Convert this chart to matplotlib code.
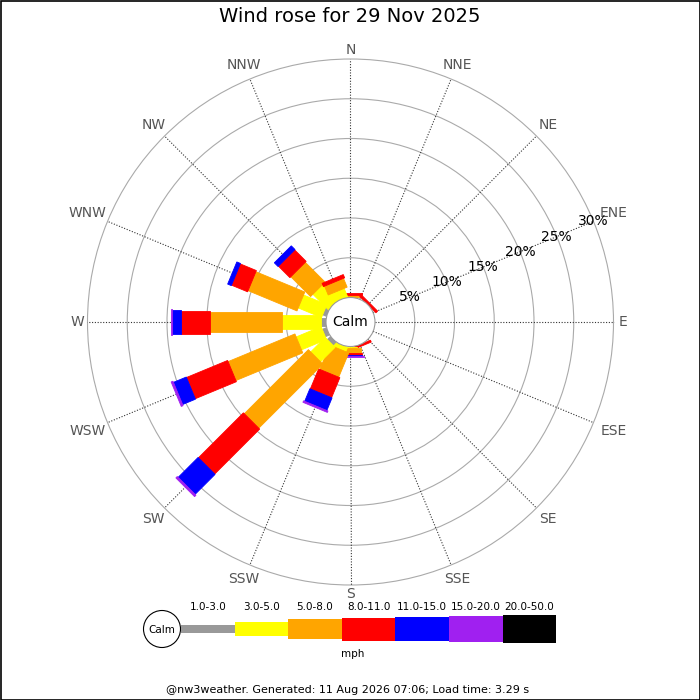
import matplotlib
matplotlib.use('Agg')
import matplotlib.pyplot as plt
from matplotlib.patches import Polygon, Circle, Rectangle
import numpy as np

directions = ['N', 'NNE', 'NE', 'ENE', 'E', 'ESE', 'SE', 'SSE',
              'S', 'SSW', 'SW', 'WSW', 'W', 'WNW', 'NW', 'NNW']
bins = ['1.0-3.0', '3.0-5.0', '5.0-8.0', '8.0-11.0', '11.0-15.0', '15.0-20.0', '20.0-50.0']
colors = ['#999999', '#ffff00', '#ffa500', '#ff0000', '#0000ff', '#a020f0', '#000000']

# percent of time per direction, one list per speed bin (N .. NNW)
p_1_3   = [0.0, 0, 0.0, 0, 0, 0, 0, 0.0,  0.0,  0.0, 0.55, 0.55, 0.6,  0.5,  0.0,  0.0]
p_3_5   = [0.1, 0, 0.0, 0, 0, 0, 0, 0.0,  0.2,  0.6,  2.57, 3.4,  4.95, 3.17, 2.73, 1.13]
p_5_8   = [0.18, 0, 0.0, 0, 0, 0, 0, 0.0, 0.6,  3.3,  11.4, 9.1,  9.05, 6.66, 3.52, 1.2]
p_8_11  = [0.25, 0, 0.3, 0, 0, 0, 0, 0.25, 0.25, 2.73, 8.0,  5.6,  3.65, 2.19, 2.05, 0.45]
p_11_15 = [0.0, 0, 0.0, 0, 0, 0, 0, 0.0,  0.18, 1.71, 3.55, 1.75, 1.13, 0.5,  0.66, 0.0]
p_15_20 = [0.0, 0, 0.0, 0, 0, 0, 0, 0.0,  0.15, 0.2,  0.25, 0.25, 0.13, 0.0,  0.0,  0.0]
p_20_50 = [0.0, 0, 0.0, 0, 0, 0, 0, 0.0,  0.0,  0.0,  0.0,  0.0,  0.0,  0.0,  0.0,  0.0]
series = [p_1_3, p_3_5, p_5_8, p_8_11, p_11_15, p_15_20, p_20_50]

ring_pcts = [5, 10, 15, 20, 25, 30]

# geometry in pixels (figure is 700x700)
px = 7.95            # pixels per percent
calm_px = 24.5
bar_w_px = [8, 14, 20.5, 23, 24, 26.5, 28]
cx, cy = 350.5, 322

calm = calm_px / px
bar_w = [w / px for w in bar_w_px]

fig = plt.figure(figsize=(7, 7), dpi=100)
ax = fig.add_axes([0, 0, 1, 1])
ax.set_xlim(-cx / px, (700 - cx) / px)
ax.set_ylim(-(700 - cy) / px, cy / px)
ax.set_aspect('equal')
ax.axis('off')

angles = np.radians(np.arange(16) * 22.5)
rmax = calm + ring_pcts[-1]

# rings
for p in ring_pcts:
    ax.add_patch(Circle((0, 0), calm + p, fill=False, ec='#aaaaaa', lw=0.8, zorder=1))
# spokes
for a in angles:
    ux, uy = np.sin(a), np.cos(a)
    ax.plot([calm * ux, rmax * ux], [calm * uy, rmax * uy], color='#333333',
            lw=0.8, ls=(0, (1, 1.5)), zorder=1)

# direction labels
for a, lab in zip(angles, directions):
    ux, uy = np.sin(a), np.cos(a)
    r = (267 + 5.7 * len(lab) * abs(ux) + 5.5 * abs(uy)) / px
    ax.text(r * ux, r * uy, lab, ha='center', va='center', fontsize=10, color='#555555')

# percent labels along ENE
a_lab = np.radians(67.5)
for p in ring_pcts:
    r = calm + p
    ax.text(r * np.sin(a_lab), r * np.cos(a_lab), f'{p}%', ha='center', va='center',
            fontsize=10, color='black', zorder=5)

# bars
for i, a in enumerate(angles):
    ux, uy = np.sin(a), np.cos(a)
    vx, vy = np.cos(a), -np.sin(a)
    r0 = calm
    for k, s in enumerate(series):
        v = s[i]
        if v <= 0:
            continue
        r1 = r0 + v
        h = bar_w[k] / 2
        pts = [(r0 * ux + h * vx, r0 * uy + h * vy), (r1 * ux + h * vx, r1 * uy + h * vy),
               (r1 * ux - h * vx, r1 * uy - h * vy), (r0 * ux - h * vx, r0 * uy - h * vy)]
        ax.add_patch(Polygon(pts, closed=True, fc=colors[k], ec=colors[k], lw=0.6, zorder=3))
        r0 = r1

ax.add_patch(Circle((0, 0), calm, fc='white', ec='#999999', lw=0.8, zorder=4))
ax.text(0, 0, 'Calm', ha='center', va='center', fontsize=10, zorder=5)

# overlay in pixel coordinates: title, legend, footer, frame
ov = fig.add_axes([0, 0, 1, 1], facecolor='none')
ov.set_xlim(0, 700)
ov.set_ylim(700, 0)
ov.axis('off')

ov.text(350, 17, 'Wind rose for 29 Nov 2025', ha='center', va='center', fontsize=14)

lx0, lseg, ly = 181, 53.6, 629
ov.add_patch(Circle((162, ly), 18.5, fc='white', ec='black', lw=0.8))
ov.text(162, ly + 1, 'Calm', ha='center', va='center', fontsize=7.5)
for k, lab in enumerate(bins):
    x0 = lx0 + k * lseg
    ov.add_patch(Rectangle((x0, ly - bar_w_px[k] / 2), lseg, bar_w_px[k],
                           fc=colors[k], ec='none'))
    ov.text(x0 + lseg / 2, 606.5, lab, ha='center', va='center', fontsize=7.5)
ov.text(353, 654, 'mph', ha='center', va='center', fontsize=7.5)

ov.text(348, 690, '@nw3weather. Generated: 11 Aug 2026 07:06; Load time: 3.29 s',
        ha='center', va='center', fontsize=8)

ov.add_patch(Rectangle((0.5, 0.5), 699, 699, fill=False, ec='black', lw=1.2))

plt.savefig('out.png', dpi=100)
